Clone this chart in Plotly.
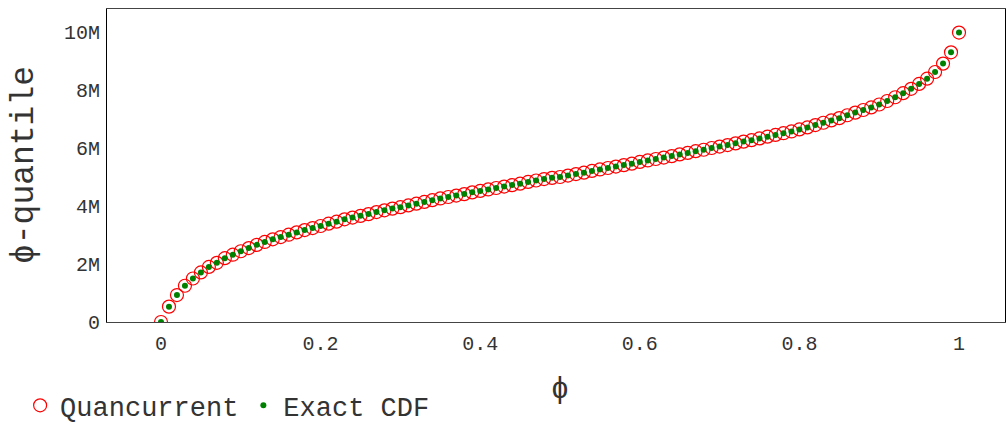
import plotly.graph_objects as go

phi = [i / 100 for i in range(101)]

quancurrent_m = [
    0.00, 0.53, 0.93, 1.25, 1.50, 1.71, 1.90, 2.04, 2.20, 2.32,
    2.44, 2.55, 2.66, 2.76, 2.85, 2.93, 3.01, 3.09, 3.17, 3.24,
    3.31, 3.39, 3.46, 3.54, 3.60, 3.66, 3.72, 3.79, 3.85, 3.91,
    3.96, 4.02, 4.08, 4.14, 4.20, 4.26, 4.31, 4.36, 4.41, 4.47,
    4.52, 4.57, 4.62, 4.67, 4.72, 4.77, 4.83, 4.88, 4.93, 4.97,
    5.00, 5.05, 5.10, 5.15, 5.21, 5.26, 5.31, 5.36, 5.41, 5.46,
    5.52, 5.57, 5.62, 5.67, 5.72, 5.78, 5.83, 5.89, 5.94, 6.00,
    6.05, 6.10, 6.16, 6.22, 6.27, 6.33, 6.39, 6.45, 6.51, 6.57,
    6.64, 6.71, 6.79, 6.87, 6.95, 7.03, 7.13, 7.22, 7.31, 7.40,
    7.50, 7.62, 7.75, 7.89, 8.04, 8.21, 8.39, 8.62, 8.91, 9.30,
    9.98,
]
exact_cdf_m = list(quancurrent_m)

quancurrent = [v * 1e6 for v in quancurrent_m]
exact_cdf = [v * 1e6 for v in exact_cdf_m]

x_ticks = [0, 0.2, 0.4, 0.6, 0.8, 1]
x_tick_labels = ["0", "0.2", "0.4", "0.6", "0.8", "1"]
x_title = "ϕ"
y_title = "ϕ-quantile"

FONT = "Liberation Mono, Courier New, monospace"

fig = go.Figure()
fig.add_trace(go.Scatter(
    x=phi, y=quancurrent, mode="markers", name="Quancurrent",
    marker=dict(symbol="circle-open", color="red", size=13, line=dict(width=1.2, color="red")),
))
fig.add_trace(go.Scatter(
    x=phi, y=exact_cdf, mode="markers", name="Exact CDF",
    marker=dict(symbol="circle", color="green", size=6),
))

fig.update_layout(
    width=1006, height=425,
    margin=dict(l=107, r=1, t=9, b=103, autoexpand=False),
    paper_bgcolor="white", plot_bgcolor="white",
    font=dict(family=FONT, size=20, color="#333"),
    showlegend=True,
    legend=dict(
        orientation="h", xref="container", yref="paper",
        x=0.02, y=-0.346, xanchor="left", yanchor="bottom",
        font=dict(family=FONT, size=27, color="#333"),
        itemwidth=30,
    ),
    xaxis=dict(
        range=[-54 / 798, 1 + 46 / 798],
        tickvals=x_ticks, ticktext=x_tick_labels,
        showgrid=False, zeroline=False,
        showline=True, linecolor="#444", linewidth=1, mirror=True,
        ticks="outside", ticklen=3, tickcolor="rgba(0,0,0,0)",
        tickfont=dict(family=FONT, size=20, color="#333"),
    ),
    yaxis=dict(
        range=[0, 313 / 29 * 1e6],
        tickvals=[0, 2e6, 4e6, 6e6, 8e6, 10e6],
        ticktext=["0", "2M", "4M", "6M", "8M", "10M"],
        showgrid=False, zeroline=False,
        showline=True, linecolor="black", linewidth=1, mirror=True,
        ticks="outside", ticklen=2, tickcolor="rgba(0,0,0,0)",
        tickfont=dict(family=FONT, size=20, color="#333"),
    ),
    annotations=[
        dict(text=x_title, xref="paper", yref="paper", x=0.5045, y=-0.218,
             xanchor="center", yanchor="middle", showarrow=False,
             font=dict(family=FONT, size=30, color="#333")),
        dict(text=y_title, xref="paper", yref="paper", x=-0.0913, y=0.5016,
             xanchor="center", yanchor="middle", showarrow=False, textangle=-90,
             font=dict(family=FONT, size=33, color="#333")),
    ],
)

fig.write_html("out.html")
